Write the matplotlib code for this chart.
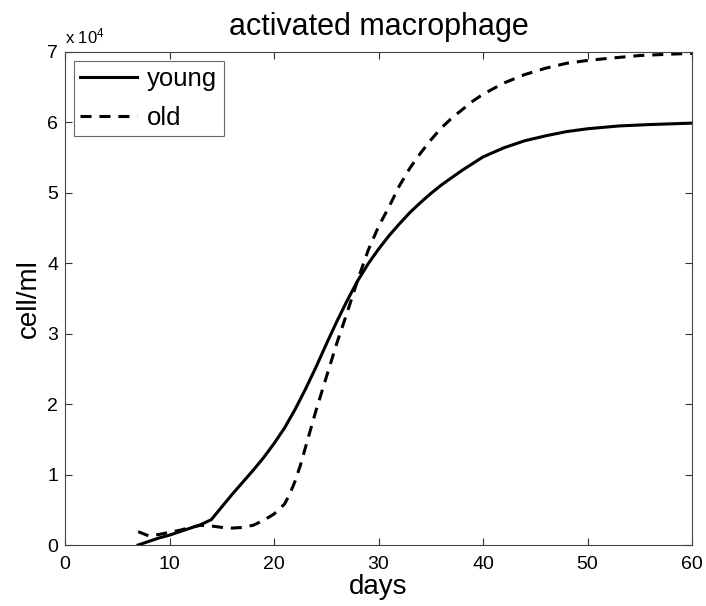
import matplotlib
matplotlib.use("Agg")
import matplotlib.pyplot as plt

plt.rcParams['font.family'] = ['Liberation Sans', 'DejaVu Sans']
plt.rcParams['mathtext.default'] = 'regular'

# values in units of 1e4 cell/ml
young_days = [7, 8, 9, 10, 11, 12, 13, 14, 15, 16, 17, 18, 19, 20, 21, 22, 23, 24, 25, 26,
              27, 28, 29, 30, 31, 32, 33, 34, 35, 36, 38, 40, 42, 44, 46, 48, 50, 53, 56, 60]
young_vals = [0.0, 0.05, 0.10, 0.14, 0.19, 0.24, 0.29, 0.36, 0.54, 0.72, 0.89, 1.06, 1.24, 1.44,
              1.66, 1.92, 2.21, 2.52, 2.85, 3.17, 3.47, 3.75, 3.99, 4.20, 4.39, 4.56, 4.72, 4.86,
              4.99, 5.11, 5.32, 5.51, 5.64, 5.74, 5.81, 5.87, 5.91, 5.95, 5.97, 5.99]

old_days = [7, 8, 9, 10, 11, 12, 13, 14, 15, 16, 17, 18, 19, 20, 21, 21.5, 22, 22.5, 23, 23.5,
            24, 25, 26, 27, 28, 29, 30, 31, 32, 33, 34, 35, 36, 37, 38, 39, 40, 42, 44, 46,
            48, 50, 52, 55, 58, 60]
old_vals = [0.19, 0.13, 0.15, 0.18, 0.21, 0.25, 0.28, 0.27, 0.25, 0.24, 0.25, 0.28, 0.35, 0.44,
            0.58, 0.72, 0.90, 1.12, 1.38, 1.64, 1.90, 2.38, 2.86, 3.30, 3.76, 4.18, 4.52, 4.80,
            5.10, 5.35, 5.56, 5.75, 5.92, 6.06, 6.18, 6.30, 6.40, 6.56, 6.68, 6.77, 6.84, 6.88,
            6.91, 6.95, 6.97, 6.98]

x_ticks = [0, 10, 20, 30, 40, 50, 60]
y_ticks = [0, 1, 2, 3, 4, 5, 6, 7]

fig = plt.figure(figsize=(7.06, 6.06), dpi=100)
ax = fig.add_axes([65 / 706, 61 / 606, 627 / 706, 493 / 606])

ax.plot(young_days, young_vals, color='black', linewidth=2.2, label='young')
ax.plot(old_days, old_vals, color='black', linewidth=2.2, linestyle='--',
        dashes=(3.6, 2.6), label='old')

ax.set_xlim(0, 60)
ax.set_ylim(0, 7)
ax.set_xticks(x_ticks)
ax.set_yticks(y_ticks)
ax.tick_params(direction='in', length=5, width=0.8, colors='#333333',
               labelcolor='black', labelsize=14, top=True, right=True)
ax.tick_params(axis='x', pad=8)
ax.tick_params(axis='y', pad=5)
for s in ax.spines.values():
    s.set_linewidth(0.8)
    s.set_color('#444444')

ax.set_xlabel('days', fontsize=20, labelpad=1)
ax.set_ylabel('cell/ml', fontsize=20, labelpad=4)
ax.set_title('activated macrophage', fontsize=22, pad=12)
ax.text(0.0, 1.012, r'x 10$^{4}$', transform=ax.transAxes, fontsize=12,
        ha='left', va='bottom')

leg = ax.legend(loc='upper left', fontsize=18.5, handlelength=2.2, borderpad=0.25,
                labelspacing=0.55, handletextpad=0.4, borderaxespad=0.35, fancybox=False)
leg.get_frame().set_edgecolor('#444444')
leg.get_frame().set_linewidth(0.8)

fig.savefig('out.png', dpi=100)
